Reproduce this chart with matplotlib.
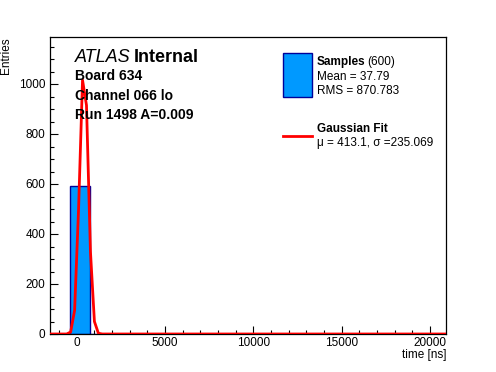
import numpy as np
import matplotlib.pyplot as plt
from matplotlib.ticker import MultipleLocator

plt.rcParams["font.family"] = ["Liberation Sans", "DejaVu Sans"]

# histogram: 20 bins of 1120 ns from -1500 ns
bin_edges = [-1500, -380, 740, 1860, 2980, 4100, 5220, 6340, 7460, 8580, 9700,
             10820, 11940, 13060, 14180, 15300, 16420, 17540, 18660, 19780, 20900]
bin_counts = [0, 592, 0, 0, 0, 0, 0, 0, 0, 0, 0, 0, 0, 0, 0, 0, 0, 0, 0, 0]

# gaussian fit curve as drawn (sampled points)
fit_x = [-1500, -556, -332, -108, 116, 340, 564, 788, 1012, 1236, 1460, 20900]
fit_y = [0, 0, 8, 95, 500, 1016, 915, 330, 50, 3, 0, 0]

W, H = 496, 372
fig = plt.figure(figsize=(W / 100, H / 100), dpi=100)
fig.patch.set_facecolor("white")


def fx(px):
    return px / W


def fy(py):
    return 1 - py / H


ax = fig.add_axes([fx(50), fy(334), fx(446) - fx(50), fy(37) - fy(334)])

edges = np.array(bin_edges)
ax.bar(edges[:-1], bin_counts, width=np.diff(edges), align="edge",
       color="#0099ff", edgecolor="#000099", linewidth=1.0, zorder=2)
ax.plot(fit_x, fit_y, color="#ff0000", lw=2.0, zorder=3)

ax.set_xlim(-1500, 20900)
ax.set_ylim(0, 1188)

ax.xaxis.set_major_locator(MultipleLocator(5000))
ax.xaxis.set_minor_locator(MultipleLocator(1000))
ax.yaxis.set_major_locator(MultipleLocator(200))
ax.yaxis.set_minor_locator(MultipleLocator(50))
ax.tick_params(which="both", direction="in", top=False, right=False,
               labelsize=8.5, width=0.8)
ax.tick_params(axis="x", pad=2)
ax.tick_params(which="major", length=6)
ax.tick_params(which="minor", length=3)
for s in ax.spines.values():
    s.set_linewidth(0.9)

fig.text(fx(446), fy(355), "time [ns]", ha="right", va="center", fontsize=8.5)
fig.text(fx(6), fy(37), "Entries", ha="center", va="top", rotation=90,
         fontsize=8.5)

# ATLAS label and run info
fig.text(fx(75), fy(58), "ATLAS", fontsize=13, style="italic",
         ha="left", va="center")
fig.text(fx(134), fy(58), "Internal", fontsize=13, weight="bold",
         ha="left", va="center")
info = ["Board 634", "Channel 066 lo", "Run 1498 A=0.009"]
for i, line in enumerate(info):
    fig.text(fx(75), fy(76 + 19.5 * i), line, fontsize=10, weight="bold",
             ha="left", va="center")

# legend
fig.patches.append(plt.Rectangle((fx(283), fy(97)), fx(312) - fx(283),
                                 fy(53) - fy(97), transform=fig.transFigure,
                                 facecolor="#0099ff", edgecolor="#000099",
                                 lw=1.0))
fig.text(fx(317), fy(62), "Samples", fontsize=8.5, weight="bold", va="center")
fig.text(fx(367), fy(62), "(600)", fontsize=8.5, va="center")
fig.text(fx(317), fy(77), "Mean = 37.79", fontsize=8.5, va="center")
fig.text(fx(317), fy(91), "RMS = 870.783", fontsize=8.5, va="center")

fig.lines.append(plt.Line2D([fx(283), fx(312)], [fy(136), fy(136)],
                            transform=fig.transFigure, color="#ff0000", lw=2))
fig.text(fx(317), fy(129), "Gaussian Fit", fontsize=8.5, weight="bold",
         va="center")
fig.text(fx(317), fy(143), "μ = 413.1, σ =235.069", fontsize=8.5, va="center")

fig.savefig("out.png", dpi=100, facecolor="white")
